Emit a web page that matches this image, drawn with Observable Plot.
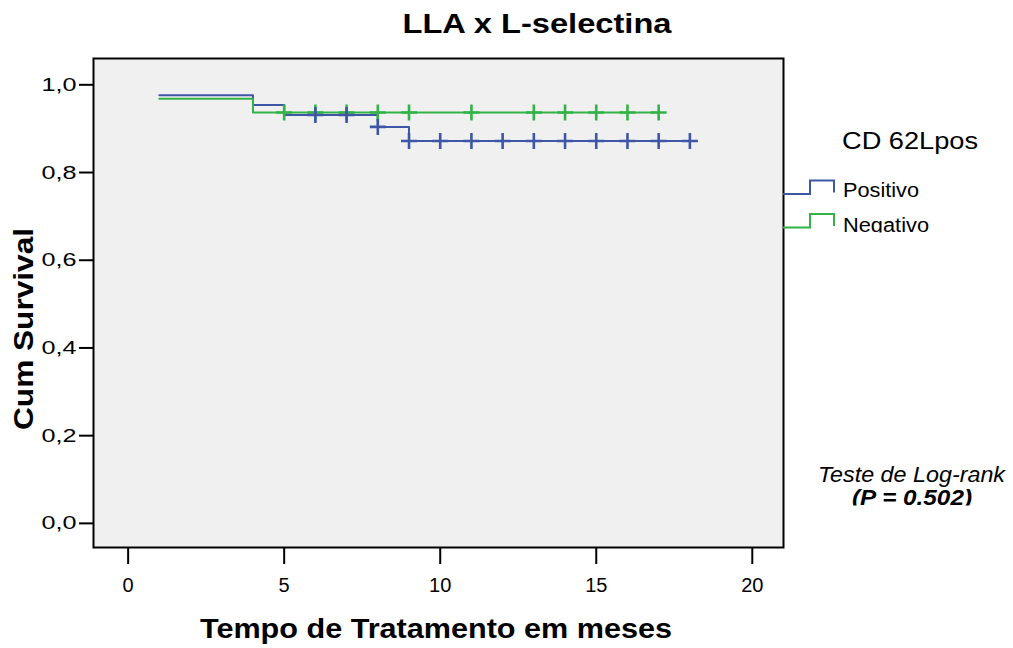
<!DOCTYPE html>
<html>
<head>
<meta charset="utf-8">
<script src="https://cdn.jsdelivr.net/npm/d3@7"></script>
<script src="https://cdn.jsdelivr.net/npm/@observablehq/plot@0.6"></script>
<style>
  html, body { margin: 0; padding: 0; background: #fff; }
  #wrap { position: relative; width: 1013px; height: 648px; overflow: hidden; font-family: "Liberation Sans", Arial, sans-serif; }
  #wrap > svg { position: absolute; left: 0; top: 0; }
</style>
</head>
<body>
<div id="wrap"></div>
<script>
// ---- data ----
const seriesNames = ["Positivo", "Negativo"];
const seriesColors = ["#3d56a6", "#33b347"];

const posTimes = [1, 4, 5, 8, 9, 18];
const posSurv  = [0.976, 0.954, 0.931, 0.904, 0.872, 0.872];
const posCensorTimes = [6, 7, 8, 9, 10, 11, 12, 13, 14, 15, 16, 17, 18];

const negTimes = [1, 4, 17];
const negSurv  = [0.968, 0.937, 0.937];
const negCensorTimes = [5, 6, 7, 8, 9, 11, 13, 14, 15, 16, 17];

const xTicks = [0, 5, 10, 15, 20];
const yTicks = [0, 0.2, 0.4, 0.6, 0.8, 1.0];

const titleText = "LLA x L-selectina";
const xTitle = "Tempo de Tratamento em meses";
const yTitle = "Cum Survival";
const legendTitle = "CD 62Lpos";
const noteLine1 = "Teste de Log-rank";
const noteLine2 = "(P = 0.502)";

// ---- build tables ----
function stepRows(times, surv, name) {
  return times.map((t, i) => ({t, s: surv[i], g: name}));
}
function survAt(times, surv, t) {
  let v = surv[0];
  for (let i = 0; i < times.length; i++) if (times[i] <= t) v = surv[i];
  return v;
}
const posRows = stepRows(posTimes, posSurv, seriesNames[0]);
const negRows = stepRows(negTimes, negSurv, seriesNames[1]);
const posCens = posCensorTimes.map(t => ({t, s: survAt(posTimes, posSurv, t), g: seriesNames[0]}));
const negCens = negCensorTimes.map(t => ({t, s: survAt(negTimes, negSurv, t), g: seriesNames[1]}));

const plusSymbol = {
  draw(context, size) {
    const r = Math.sqrt(size / Math.PI);
    context.moveTo(-r, 0); context.lineTo(r, 0);
    context.moveTo(0, -r); context.lineTo(0, r);
  }
};

const color = {domain: seriesNames, range: seriesColors};

const chart = Plot.plot({
  width: 1013,
  height: 648,
  marginLeft: 93,
  marginRight: 230,
  marginTop: 58,
  marginBottom: 101,
  style: {fontFamily: '"Liberation Sans", Arial, sans-serif', color: "#000", background: "transparent"},
  x: {domain: [-1.11, 21.0]},
  y: {domain: [-0.055, 1.06]},
  color,
  marks: [
    Plot.frame({fill: "#f0f0f0", stroke: null}),
    Plot.line(posRows, {x: "t", y: "s", stroke: "g", strokeWidth: 2, curve: "step-after"}),
    Plot.line(negRows, {x: "t", y: "s", stroke: "g", strokeWidth: 2, curve: "step-after"}),
    Plot.dot(negCens, {x: "t", y: "s", stroke: "g", r: 8, symbol: plusSymbol, strokeWidth: 2.6}),
    Plot.dot(posCens, {x: "t", y: "s", stroke: "g", r: 8, symbol: plusSymbol, strokeWidth: 2.6}),
    Plot.frame({stroke: "#000", strokeWidth: 2}),
    Plot.axisY({ticks: yTicks, tickSize: 14, tickPadding: 3, strokeWidth: 2, fontSize: 20, label: null,
                tickFormat: d => d.toFixed(1).replace(".", ",")}),
    Plot.axisX({ticks: xTicks, tickSize: 17, tickPadding: 13, strokeWidth: 2, fontSize: 20, label: null,
                tickFormat: d => String(d)})
  ]
});

const wrap = document.getElementById("wrap");
wrap.appendChild(chart);

d3.select(chart).selectAll('g[aria-label="y-axis tick label"] text')
  .style("font-size", "19px")
  .attr("textLength", 35).attr("lengthAdjust", "spacingAndGlyphs");
d3.select(chart).selectAll('g[aria-label="x-axis tick label"] text')
  .style("font-size", "20px");

// ---- overlay texts & legend ----
const NS = "http://www.w3.org/2000/svg";
const ov = d3.select(wrap).append("svg")
  .attr("xmlns", NS)
  .attr("width", 1013).attr("height", 648)
  .style("font-family", '"Liberation Sans", Arial, sans-serif');

const defs = ov.append("defs");
defs.append("clipPath").attr("id", "legclip").append("rect")
  .attr("x", 783).attr("y", 100).attr("width", 230).attr("height", 132.5);
defs.append("clipPath").attr("id", "noteclip").append("rect")
  .attr("x", 790).attr("y", 440).attr("width", 223).attr("height", 65.5);

function txt(g, s, x, y, o) {
  const t = g.append("text").attr("x", x).attr("y", y).text(s)
    .attr("font-size", o.size).attr("fill", "#000");
  if (o.weight) t.attr("font-weight", o.weight);
  if (o.style) t.attr("font-style", o.style);
  if (o.anchor) t.attr("text-anchor", o.anchor);
  if (o.len) t.attr("textLength", o.len).attr("lengthAdjust", "spacingAndGlyphs");
  if (o.rotate) t.attr("transform", `rotate(${o.rotate},${x},${y})`);
  return t;
}

txt(ov, titleText, 537, 33, {size: 27, weight: "bold", anchor: "middle", len: 269});
txt(ov, xTitle, 436, 638, {size: 28, weight: "bold", anchor: "middle", len: 472});
txt(ov, yTitle, 33, 329, {size: 28, weight: "bold", anchor: "middle", len: 202, rotate: -90});

const leg = ov.append("g").attr("clip-path", "url(#legclip)");
txt(leg, legendTitle, 842, 148.5, {size: 23, len: 136});
const legY = [194, 227.5];
seriesNames.forEach((name, i) => {
  const y0 = legY[i];
  leg.append("path")
    .attr("d", `M783,${y0}H810V${y0 - 13.5}H834V${y0 - 1.5}`)
    .attr("fill", "none").attr("stroke", seriesColors[i]).attr("stroke-width", 2);
  txt(leg, name, 843, y0 + 2.5 + (i ? 1.5 : 0), {size: 20, len: i ? 86 : 76});
});

const note = ov.append("g").attr("clip-path", "url(#noteclip)");
txt(note, noteLine1, 818, 481.5, {size: 22, style: "italic", len: 187});
txt(note, noteLine2, 852, 505, {size: 22, style: "italic", weight: "bold", len: 120});
</script>
</body>
</html>
